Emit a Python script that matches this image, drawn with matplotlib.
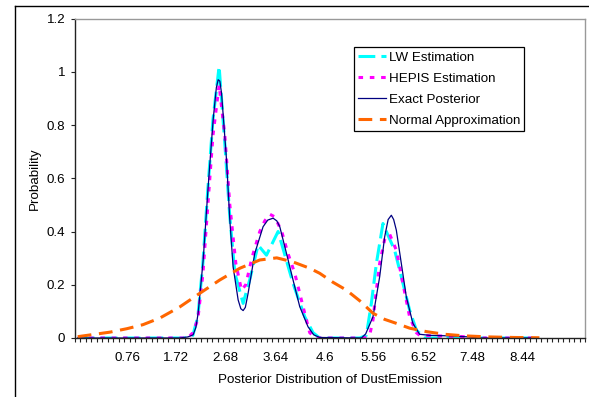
import matplotlib
matplotlib.use('Agg')
import matplotlib.pyplot as plt
from matplotlib.lines import Line2D
import numpy as np

plt.rcParams['font.family'] = ['Liberation Sans', 'DejaVu Sans']

# ---------------- data ----------------
x_tick_labels = ["0.76", "1.72", "2.68", "3.64", "4.6", "5.56", "6.52", "7.48", "8.44"]
y_tick_labels = ["0", "0.2", "0.4", "0.6", "0.8", "1", "1.2"]

lw_x = [-0.2, 1.884, 2.039, 2.136, 2.234, 2.331, 2.43, 2.55, 2.661, 2.758, 2.856, 3.017,
        3.147, 3.308, 3.471, 3.697, 3.988, 4.215, 4.377, 4.507, 5.284, 5.414, 5.511,
        5.609, 5.737, 5.834, 5.964, 6.094, 6.255, 6.386, 6.547, 8.7]
lw_y = [0, 0, 0.01, 0.08, 0.28, 0.56, 0.82, 1.02, 0.73, 0.455, 0.244, 0.13,
        0.22, 0.349, 0.311, 0.40, 0.205, 0.08, 0.02, 0, 0, 0.01, 0.13,
        0.28, 0.43, 0.386, 0.33, 0.23, 0.105, 0.03, 0, 0]

hepis_x = [-0.2, 1.942, 2.039, 2.136, 2.234, 2.331, 2.43, 2.55, 2.661, 2.758, 2.875,
           2.985, 3.069, 3.186, 3.341, 3.438, 3.535, 3.632, 3.768, 3.885, 4.021, 4.215,
           4.312, 4.429, 5.38, 5.478, 5.543, 5.609, 5.673, 5.77, 5.867, 5.997, 6.125,
           6.255, 6.386, 6.45, 7.3, 7.4, 8.7]
hepis_y = [0, 0, 0.02, 0.07, 0.24, 0.50, 0.76, 0.95, 0.76, 0.50, 0.28,
           0.18, 0.20, 0.30, 0.40, 0.44, 0.465, 0.455, 0.40, 0.32, 0.243, 0.093,
           0.02, 0, 0, 0.01, 0.068, 0.18, 0.28, 0.37, 0.39, 0.33, 0.205,
           0.08, 0.02, 0.01, 0.005, 0, 0]

exact_x = [-0.2, 1.787, 1.942, 2.045, 2.098, 2.142, 2.24, 2.337, 2.434, 2.496, 2.531,
           2.564, 2.597, 2.694, 2.758, 2.822, 2.92, 2.972, 3.017, 3.06, 3.114, 3.244,
           3.405, 3.497, 3.6, 3.672, 3.73, 3.86, 3.988, 4.118, 4.28, 4.39, 4.507,
           5.317, 5.40, 5.543, 5.673, 5.77, 5.838, 5.9, 5.945, 5.997, 6.094, 6.191,
           6.319, 6.45, 6.644, 7.033, 7.421, 7.62, 8.7]
exact_y = [0, 0, 0.004, 0.012, 0.04, 0.093, 0.293, 0.569, 0.82, 0.94, 0.97,
           0.965, 0.92, 0.669, 0.444, 0.268, 0.143, 0.11, 0.103, 0.115, 0.168, 0.318,
           0.418, 0.443, 0.45, 0.44, 0.418, 0.318, 0.218, 0.118, 0.042, 0.012, 0.002,
           0, 0.015, 0.08, 0.23, 0.38, 0.445, 0.461, 0.445, 0.405, 0.28, 0.155,
           0.055, 0.014, 0.01, 0.008, 0.004, 0, 0]

normal_x = [-0.2, 0.096, 0.427, 0.757, 1.068, 1.398, 1.787, 2.175, 2.564, 2.953, 3.341,
            3.671, 3.982, 4.312, 4.507, 4.759, 5.025, 5.284, 5.543, 5.77, 5.997, 6.255,
            6.58, 6.935, 7.324, 7.81, 8.29, 8.78]
normal_y = [0.005, 0.013, 0.022, 0.035, 0.05, 0.075, 0.117, 0.168, 0.218, 0.262, 0.293,
            0.301, 0.286, 0.262, 0.243, 0.21, 0.18, 0.14, 0.093, 0.07, 0.055, 0.037,
            0.024, 0.014, 0.008, 0.004, 0.002, 0.001]

# ---------------- figure ----------------
W, H = 589, 397
fig = plt.figure(figsize=(W / 100, H / 100), dpi=100)
ax = fig.add_axes([75 / W, (H - 338) / H, 510 / W, 319.5 / H])

FS = 9.6
ax.plot(lw_x, lw_y, color='#00FFFF', lw=2.2, dashes=(5.5, 2.0), label='LW Estimation')
ax.plot(hepis_x, hepis_y, color='#FF00FF', lw=2.2, dashes=(1.5, 2.2), label='HEPIS Estimation')
ax.plot(exact_x, exact_y, color='#000080', lw=0.9, label='Exact Posterior')
ax.plot(normal_x, normal_y, color='#FF6600', lw=2.2, dashes=(4.5, 2.5), label='Normal Approximation')

xmin, xmax = -0.2533, 9.667
ax.set_xlim(xmin, xmax)
ax.set_ylim(0, 1.2)

ax.set_xticks([float(s) for s in x_tick_labels])
ax.set_xticklabels(x_tick_labels, fontsize=FS)
ax.set_xticks(np.linspace(xmin, xmax, 94), minor=True)
ax.tick_params(axis='x', which='major', length=0, pad=10)
ax.tick_params(axis='x', which='minor', length=3, width=0.8, direction='out', color='#222222')

ax.set_yticks([float(s) for s in y_tick_labels])
ax.set_yticklabels(y_tick_labels, fontsize=FS)
ax.tick_params(axis='y', length=3, width=0.8, direction='out', pad=4, color='#222222')

for s in ['left', 'bottom']:
    ax.spines[s].set_color('#222222')
    ax.spines[s].set_linewidth(1.0)
for s in ['top', 'right']:
    ax.spines[s].set_color('#999999')
    ax.spines[s].set_linewidth(1.0)

ax.set_xlabel('Posterior Distribution of DustEmission', fontsize=FS)
ax.xaxis.set_label_coords(0.5, -0.113)
ax.set_ylabel('Probability', fontsize=FS)
ax.yaxis.set_label_coords(-0.066, 0.5)

leg = ax.legend(loc='upper left', bbox_to_anchor=(354 / W, 1 - 47.3 / H),
                bbox_transform=fig.transFigure, frameon=True, fancybox=False,
                edgecolor='black', framealpha=1, borderpad=0.3, labelspacing=0.65,
                handlelength=2.1, handletextpad=0.2, borderaxespad=0, fontsize=FS)
leg.get_frame().set_linewidth(0.9)

# outer chart border (left and top)
fig.add_artist(Line2D([15 / W, 15 / W], [0, 1 - 5.5 / H], color='black', lw=1.0,
                      transform=fig.transFigure))
fig.add_artist(Line2D([15 / W, 1], [1 - 5.5 / H, 1 - 5.5 / H], color='black', lw=1.0,
                      transform=fig.transFigure))

fig.savefig('out.png', dpi=100)
